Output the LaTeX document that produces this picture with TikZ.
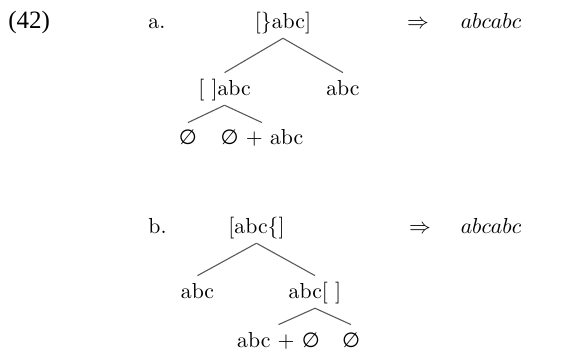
\documentclass[tikz,border=0pt]{standalone}
\usepackage{fontspec}
\newfontfamily\exfont{Liberation Serif}
\newfontfamily\symfont{DejaVu Sans}
\newcommand{\nullset}{{\symfont\fontsize{9.5}{11}\selectfont ∅}}

\begin{document}
\begin{tikzpicture}[every node/.style={anchor=base, inner xsep=0pt, inner ysep=2.4pt, text height=7.7pt, text depth=2.1pt},
    branch/.style={draw=black!65, line width=0.5pt}]
  \useasboundingbox (0,0) rectangle (9.167,-5.675);
  \node[anchor=base west, font=\exfont\fontsize{11.5}{14}\selectfont] (exnum) at (0.129,-0.453) {(42)};
  % a.
  \node[anchor=base west] (labelA) at (2.393,-0.453) {a.};
  \node (rootA) at (4.575,-0.453) {[\}abc]};
  \node (arrA) at (6.758,-0.453) {$\Rightarrow$};
  \node (outA) at (7.938,-0.453) {$abcabc$};
  \node (leftA) at (3.630,-1.536) {[\ ]abc};
  \node (rightA) at (5.545,-1.536) {abc};
  \node (leftleftA) at (3.039,-2.344) {\nullset};
  \node (leftrightA) at (4.236,-2.344) {\nullset{} + abc};
  \draw[branch] (rootA.south) -- (leftA.north);
  \draw[branch] (rootA.south) -- (rightA.north);
  \draw[branch] (leftA.south) -- (leftleftA.north);
  \draw[branch] (leftA.south) -- (leftrightA.north);
  % b.
  \node[anchor=base west] (labelB) at (2.393,-3.767) {b.};
  \node (rootB) at (4.147,-3.767) {[abc\{]};
  \node (arrB) at (6.790,-3.767) {$\Rightarrow$};
  \node (outB) at (7.938,-3.767) {$abcabc$};
  \node (leftB) at (3.193,-4.818) {abc};
  \node (rightB) at (5.093,-4.818) {abc[\ ]};
  \node (rightleftB) at (4.503,-5.610) {abc + \nullset};
  \node (rightrightB) at (5.675,-5.610) {\nullset};
  \draw[branch] (rootB.south) -- (leftB.north);
  \draw[branch] (rootB.south) -- (rightB.north);
  \draw[branch] (rightB.south) -- (rightleftB.north);
  \draw[branch] (rightB.south) -- (rightrightB.north);
\end{tikzpicture}
\end{document}
